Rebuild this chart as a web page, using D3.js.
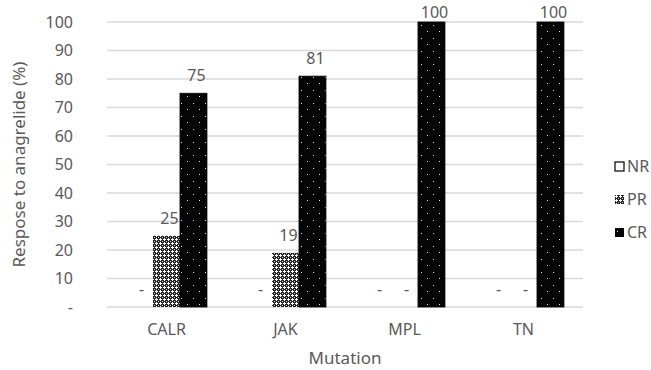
<!DOCTYPE html>
<html>
<head>
<meta charset="utf-8">
<script src="https://cdn.jsdelivr.net/npm/d3@7"></script>
<style>
  body { margin: 0; background: #fff; }
  text { font-family: "Noto Sans", sans-serif; fill: #595959; }
</style>
</head>
<body>
<div id="wrapper"></div>
<script>
const categories = ["CALR", "JAK", "MPL", "TN"];
const seriesNames = ["NR", "PR", "CR"];
const nrValues = [0, 0, 0, 0];
const prValues = [25, 19, 0, 0];
const crValues = [75, 81, 100, 100];
const yTicks = [0, 10, 20, 30, 40, 50, 60, 70, 80, 90, 100];

const seriesValues = { NR: nrValues, PR: prValues, CR: crValues };

const dimensions = {
  width: 651,
  height: 370,
  margin: { top: 22, right: 68, bottom: 63, left: 107 }
};
dimensions.boundedWidth = dimensions.width - dimensions.margin.left - dimensions.margin.right;
dimensions.boundedHeight = dimensions.height - dimensions.margin.top - dimensions.margin.bottom;

const wrapper = d3.select("#wrapper")
  .append("svg")
  .attr("width", dimensions.width)
  .attr("height", dimensions.height);

// fill patterns, like the Excel pattern fills
const defs = wrapper.append("defs");
const prPattern = defs.append("pattern")
  .attr("id", "pat-pr")
  .attr("patternUnits", "userSpaceOnUse")
  .attr("width", 4).attr("height", 4);
prPattern.append("rect").attr("width", 4).attr("height", 4).attr("fill", "#222");
prPattern.append("rect").attr("x", 1).attr("y", 0).attr("width", 1).attr("height", 3).attr("fill", "#fff");
prPattern.append("rect").attr("x", 0).attr("y", 1).attr("width", 3).attr("height", 1).attr("fill", "#fff");
prPattern.append("rect").attr("x", 3).attr("y", 3).attr("width", 1).attr("height", 1).attr("fill", "#ddd");

const crPattern = defs.append("pattern")
  .attr("id", "pat-cr")
  .attr("patternUnits", "userSpaceOnUse")
  .attr("width", 12).attr("height", 13);
crPattern.append("rect").attr("width", 12).attr("height", 13).attr("fill", "#050505");
crPattern.append("rect").attr("x", 2).attr("y", 3).attr("width", 1).attr("height", 1).attr("fill", "#e8e8e8");
crPattern.append("rect").attr("x", 8).attr("y", 9).attr("width", 1).attr("height", 1).attr("fill", "#e8e8e8");

const fills = { NR: "#fff", PR: "url(#pat-pr)", CR: "url(#pat-cr)" };
const strokes = { NR: "#000", PR: "none", CR: "#000" };

const bounds = wrapper.append("g")
  .attr("transform", `translate(${dimensions.margin.left},${dimensions.margin.top})`);

const xScale = d3.scaleBand()
  .domain(categories)
  .range([0, dimensions.boundedWidth])
  .paddingInner(0.32)
  .paddingOuter(0.16);
const seriesScale = d3.scaleBand()
  .domain(seriesNames)
  .range([0, xScale.bandwidth()]);
const yScale = d3.scaleLinear()
  .domain([0, 100])
  .range([dimensions.boundedHeight, 0]);

// gridlines
bounds.append("g")
  .selectAll("line")
  .data(yTicks)
  .join("line")
  .attr("x1", 0)
  .attr("x2", dimensions.boundedWidth)
  .attr("y1", d => yScale(d))
  .attr("y2", d => yScale(d))
  .attr("stroke", "#d9d9d9")
  .attr("stroke-width", 1.3);

const yAxis = bounds.append("g")
  .call(d3.axisLeft(yScale).tickValues(yTicks).tickSize(0).tickPadding(34)
    .tickFormat(d => d === 0 ? "-" : d));
yAxis.select(".domain").remove();
yAxis.selectAll("text").style("font-size", "16px").attr("fill", "#595959");

const xAxis = bounds.append("g")
  .attr("transform", `translate(0,${dimensions.boundedHeight})`)
  .call(d3.axisBottom(xScale).tickSize(0).tickPadding(17));
xAxis.select(".domain").remove();
xAxis.selectAll("text").style("font-size", "16px").attr("fill", "#595959");

const flat = [];
categories.forEach((c, i) => {
  seriesNames.forEach(s => flat.push({ category: c, series: s, value: seriesValues[s][i] }));
});

const barX = d => xScale(d.category) + seriesScale(d.series);

bounds.append("g")
  .selectAll("rect")
  .data(flat.filter(d => d.value > 0))
  .join("rect")
  .attr("x", barX)
  .attr("y", d => yScale(d.value))
  .attr("width", seriesScale.bandwidth())
  .attr("height", d => yScale(0) - yScale(d.value))
  .attr("fill", d => fills[d.series])
  .attr("stroke", d => strokes[d.series])
  .attr("stroke-width", 0.8);

// data labels, kept inside the chart at the top like Excel does
bounds.append("g")
  .selectAll("text")
  .data(flat)
  .join("text")
  .attr("x", d => barX(d) + seriesScale.bandwidth() / 2 + (d.value > 0 ? 3 : 2))
  .attr("y", d => Math.max(yScale(d.value) - 12, -4))
  .attr("text-anchor", "middle")
  .style("font-size", "16px")
  .text(d => d.value === 0 ? "-" : d.value);

// axis titles
wrapper.append("text")
  .attr("transform", `translate(25,${dimensions.margin.top + dimensions.boundedHeight / 2}) rotate(-90)`)
  .attr("text-anchor", "middle")
  .style("font-size", "17px")
  .text("Respose to anagrelide (%)");

wrapper.append("text")
  .attr("x", dimensions.margin.left + dimensions.boundedWidth / 2)
  .attr("y", 364)
  .attr("text-anchor", "middle")
  .style("font-size", "17px")
  .text("Mutation");

// legend
const legend = wrapper.append("g")
  .attr("transform", "translate(615,162)");
const legendItems = legend.selectAll("g")
  .data(seriesNames)
  .join("g")
  .attr("transform", (d, i) => `translate(0,${i * 33})`);
legendItems.append("rect")
  .attr("width", 9).attr("height", 9)
  .attr("fill", d => fills[d])
  .attr("stroke", d => d === "NR" ? "#000" : "none")
  .attr("stroke-width", 1.2);
legendItems.append("text")
  .attr("x", 12)
  .attr("y", 10)
  .style("font-size", "16px")
  .text(d => d);
</script>
</body>
</html>
